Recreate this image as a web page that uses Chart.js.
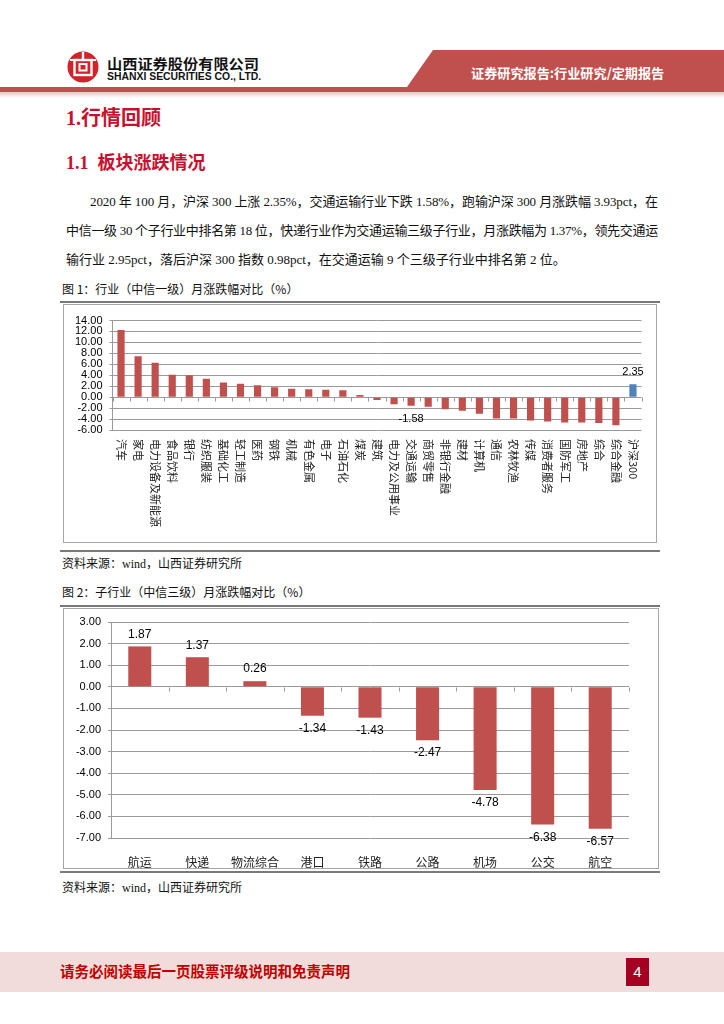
<!DOCTYPE html>
<html>
<head>
<meta charset="utf-8">
<script src="https://cdn.jsdelivr.net/npm/chart.js@4.4.1/dist/chart.umd.min.js"></script>
<style>
  body { margin:0; width:724px; height:1024px; position:relative; overflow:hidden; background:#fff; font-family:"Noto Sans CJK SC", sans-serif; color:#000; }
  .a { position:absolute; white-space:nowrap; }
  .para { font-family:"Liberation Serif","Noto Sans CJK SC",serif; font-size:13px; line-height:16px; color:#111; }
  .cap { font-size:12px; line-height:14px; color:#111; }
  .box { position:absolute; border:1px solid #a6a6a6; box-sizing:border-box; }
  .rule { position:absolute; background:#7a7a7a; }
  .h { color:#C8102E; font-weight:bold; }
</style>
</head>
<body>

<svg class="a" style="left:0;top:0" width="724" height="100">
  <defs>
    <linearGradient id="fade" x1="0" y1="0" x2="0" y2="1">
      <stop offset="0" stop-color="#e9c4c3"/>
      <stop offset="1" stop-color="#ffffff"/>
    </linearGradient>
  </defs>
  <polygon points="433,50 724,50 724,87 407,87" fill="#C0504D"/>
  <rect x="0" y="87" width="724" height="5" fill="#C0504D"/>
  <rect x="0" y="92" width="724" height="6" fill="url(#fade)"/>
  <circle cx="83" cy="67" r="15.5" fill="#D2232A"/>
  <rect x="74.5" y="60" width="17" height="15" fill="none" stroke="#fff" stroke-width="2.4"/>
  <rect x="79.5" y="64" width="7" height="6.5" fill="none" stroke="#fff" stroke-width="2"/>
  <line x1="83" y1="52" x2="83" y2="60" stroke="#fff" stroke-width="2.4"/>
  <line x1="70" y1="60" x2="96" y2="60" stroke="#fff" stroke-width="2"/>
</svg>

<div class="a" id="coName" style="left:107px;top:54px;font-size:14px;line-height:18px;font-weight:bold;color:#111;">山西证券股份有限公司</div>
<div class="a" id="coEn" style="left:107px;top:71px;font-family:'Liberation Sans',sans-serif;font-size:10px;line-height:12px;font-weight:bold;color:#111;">SHANXI SECURITIES CO., LTD.</div>
<div class="a" id="bandText" style="left:471px;top:65px;font-size:13px;line-height:16px;font-weight:bold;color:#fff;">证券研究报告:行业研究/定期报告</div>

<div class="a h" style="left:66px;top:105px;font-size:20px;line-height:24px;"><span style="font-family:'Liberation Serif',serif;">1.</span>行情回顾</div>
<div class="a h" style="left:66px;top:150px;font-size:18px;line-height:22px;"><span style="font-family:'Liberation Serif',serif;">1.1&nbsp;&nbsp;</span>板块涨跌情况</div>

<div class="a para" id="p1" style="left:90px;top:194px;">2020 年 100 月，沪深 300 上涨 2.35%，交通运输行业下跌 1.58%，跑输沪深 300 月涨跌幅 3.93pct，在</div>
<div class="a para" id="p2" style="left:66px;top:223px;">中信一级 30 个子行业中排名第 18 位，快递行业作为交通运输三级子行业，月涨跌幅为 1.37%，领先交通运</div>
<div class="a para" id="p3" style="left:66px;top:252px;">输行业 2.95pct，落后沪深 300 指数 0.98pct，在交通运输 9 个三级子行业中排名第 2 位。</div>

<div class="a cap" style="left:62px;top:282px;">图 1：行业（中信一级）月涨跌幅对比（%）</div>
<div class="rule" style="left:60px;top:301px;width:600px;height:2px;"></div>
<div class="box" style="left:63px;top:304px;width:594px;height:239px;"></div>
<canvas id="chart1" class="a" style="left:64px;top:305px;" width="592" height="237"></canvas>
<div class="rule" style="left:60px;top:550px;width:600px;height:2px;"></div>
<div class="a cap" style="left:62px;top:556px;">资料来源：<span style="font-family:'Liberation Serif',serif;">wind</span>，山西证券研究所</div>

<div class="a cap" style="left:62px;top:585px;">图 2：子行业（中信三级）月涨跌幅对比（%）</div>
<div class="rule" style="left:60px;top:605px;width:600px;height:2px;"></div>
<div class="box" style="left:63px;top:608px;width:596px;height:261px;"></div>
<canvas id="chart2" class="a" style="left:64px;top:609px;" width="594" height="259"></canvas>
<div class="rule" style="left:60px;top:871px;width:600px;height:2px;"></div>
<div class="a cap" style="left:62px;top:880px;">资料来源：<span style="font-family:'Liberation Serif',serif;">wind</span>，山西证券研究所</div>

<div class="a" style="left:0;top:952px;width:724px;height:40px;background:#F2DCDB;"></div>
<div class="a" id="foot" style="left:60px;top:962px;font-size:15px;line-height:18px;font-weight:bold;color:#C00000;">请务必阅读最后一页股票评级说明和免责声明</div>
<div class="a" style="left:626px;top:958px;width:23px;height:28px;background:#A50021;color:#fff;font-family:'Liberation Sans',sans-serif;font-size:15px;line-height:28px;text-align:center;">4</div>

<script>
// Données du graphique 1 : industries (中信一级)
const industries1 = ["汽车", "家电", "电力设备及新能源", "食品饮料", "银行", "纺织服装", "基础化工", "轻工制造", "医药", "钢铁",
  "机械", "有色金属", "电子", "石油石化", "煤炭", "建筑", "电力及公用事业", "交通运输", "商贸零售", "非银行金融",
  "建材", "计算机", "通信", "农林牧渔", "传媒", "消费者服务", "国防军工", "房地产", "综合", "综合金融", "沪深300"];
const returns1 = [12.25, 7.48, 6.27, 4.08, 4.02, 3.35, 2.68, 2.44, 2.19, 1.83,
  1.52, 1.46, 1.34, 1.28, 0.37, -0.52, -1.28, -1.58, -1.77, -2.19,
  -2.5, -3.05, -3.9, -3.92, -4.27, -4.45, -4.63, -4.65, -4.7, -5.12, 2.35];
const labelled1 = ["交通运输", "沪深300"];
const yMin1 = -6, yMax1 = 14, yStep1 = 2;

// Données du graphique 2 : sous-secteurs (中信三级)
const subs2 = ["航运", "快递", "物流综合", "港口", "铁路", "公路", "机场", "公交", "航空"];
const returns2 = [1.87, 1.37, 0.26, -1.34, -1.43, -2.47, -4.78, -6.38, -6.57];
const yMin2 = -7, yMax2 = 3, yStep2 = 1;

const RED = "#C0504D";
const BLUE = "#4F81BD";
const GRID = "#9a9a9a";

// Ajuste la largeur d'un texte (scaleX)
function fitWidth(id, w) {
  var el = document.getElementById(id);
  var s = w / el.offsetWidth;
  el.style.transformOrigin = "0 0";
  el.style.transform = "scaleX(" + s + ")";
}

// Justifie une ligne avec letter-spacing
function justifyLine(id, w) {
  var el = document.getElementById(id);
  var n = el.textContent.length;
  var ls = (w - el.offsetWidth) / n;
  el.style.letterSpacing = ls + "px";
}

fitWidth("coName", 152);
fitWidth("coEn", 154);
fitWidth("bandText", 193);
fitWidth("foot", 290);
justifyLine("p1", 568);
justifyLine("p2", 592);

// Petites graduations sur la ligne zéro
const zeroTicks = {
  id: "zeroTicks",
  afterDatasetsDraw(chart) {
    var xs = chart.scales.x, ys = chart.scales.y, ctx = chart.ctx;
    var y0 = Math.round(ys.getPixelForValue(0)) + 0.5;
    ctx.save();
    ctx.strokeStyle = GRID;
    ctx.lineWidth = 1;
    ctx.beginPath();
    for (let i = 0; i <= chart.data.labels.length; i++) {
      var px = Math.round(xs.getPixelForValue(i - 0.5)) + 0.5;
      ctx.moveTo(px, y0);
      ctx.lineTo(px, y0 + 4);
    }
    ctx.stroke();
    ctx.restore();
  }
};

// Étiquettes de valeur au-dessus / au-dessous des barres
function valueLabels(show, size) {
  return {
    id: "valueLabels",
    afterDatasetsDraw(chart) {
      var ctx = chart.ctx;
      var meta = chart.getDatasetMeta(0);
      var values = chart.data.datasets[0].data;
      ctx.save();
      ctx.font = size + "px 'Liberation Sans', sans-serif";
      ctx.fillStyle = "#000";
      ctx.textAlign = "center";
      ctx.textBaseline = "middle";
      meta.data.forEach((bar, i) => {
        if (!show(chart.data.labels[i])) return;
        var v = values[i];
        var y = v >= 0 ? bar.y - 12 : bar.y + 13;
        ctx.fillText(v.toFixed(2), bar.x, y);
      });
      ctx.restore();
    }
  };
}

// Libellés verticaux (rotation horaire) pour le graphique 1
const verticalLabels = {
  id: "verticalLabels",
  afterDraw(chart) {
    var xs = chart.scales.x, ctx = chart.ctx;
    ctx.save();
    ctx.font = "11px 'Noto Sans CJK SC', sans-serif";
    ctx.fillStyle = "#222";
    ctx.textAlign = "left";
    ctx.textBaseline = "middle";
    chart.data.labels.forEach((lab, i) => {
      ctx.save();
      ctx.translate(xs.getPixelForTick(i), xs.top + 9);
      ctx.rotate(Math.PI / 2);
      ctx.fillText(lab, 0, 0);
      ctx.restore();
    });
    ctx.restore();
  }
};

function yAxis(min, max, step, width) {
  return {
    min: min, max: max,
    ticks: { stepSize: step, color: "#000", padding: 7, autoSkip: false,
      font: { family: "Liberation Sans", size: 11, lineHeight: 1 },
      callback: (v) => v.toFixed(2) },
    grid: { color: GRID, tickLength: 3 },
    border: { color: GRID },
    afterFit: (s) => { s.width = width; }
  };
}

// Graphique 1
new Chart(document.getElementById("chart1").getContext("2d"), {
  type: "bar",
  data: {
    labels: industries1,
    datasets: [{
      data: returns1,
      backgroundColor: industries1.map((n) => n === "沪深300" ? BLUE : RED),
      barPercentage: 0.42,
      categoryPercentage: 1
    }]
  },
  options: {
    responsive: false,
    animation: false,
    layout: { padding: { top: 15.5, right: 14.5, bottom: 0, left: 0 } },
    plugins: { legend: { display: false }, tooltip: { enabled: false } },
    scales: {
      x: { grid: { display: false }, border: { display: false }, ticks: { display: false },
        afterFit: (s) => { s.height = 112; } },
      y: yAxis(yMin1, yMax1, yStep1, 48.5)
    }
  },
  plugins: [zeroTicks, valueLabels((n) => labelled1.includes(n), 11), verticalLabels]
});

// Graphique 2
new Chart(document.getElementById("chart2").getContext("2d"), {
  type: "bar",
  data: {
    labels: subs2,
    datasets: [{
      data: returns2,
      backgroundColor: RED,
      barPercentage: 0.4,
      categoryPercentage: 1
    }]
  },
  options: {
    responsive: false,
    animation: false,
    layout: { padding: { top: 13, right: 29, bottom: 0, left: 0 } },
    plugins: { legend: { display: false }, tooltip: { enabled: false } },
    scales: {
      x: { grid: { display: false }, border: { display: false },
        ticks: { color: "#222", padding: 9, font: { family: "Noto Sans CJK SC", size: 12 } },
        afterFit: (s) => { s.height = 30; } },
      y: yAxis(yMin2, yMax2, yStep2, 47)
    }
  },
  plugins: [zeroTicks, valueLabels(() => true, 12)]
});
</script>
</body>
</html>
